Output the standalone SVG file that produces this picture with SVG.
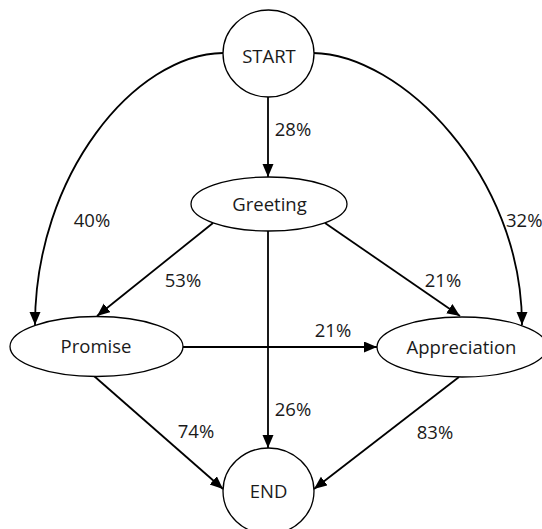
<svg xmlns="http://www.w3.org/2000/svg" width="542" height="529" viewBox="0 0 542 529">
<style>
.node{fill:#ffffff;stroke:#000000;stroke-width:1.3}
.edge{fill:none;stroke:#000000;stroke-width:1.8;marker-end:url(#arr)}
text{font-family:"Open Sans","Liberation Sans",sans-serif;font-size:18.5px;fill:#1a1a1a}
.c{text-anchor:middle}
</style>
<defs>
<marker id="arr" markerUnits="userSpaceOnUse" markerWidth="14" markerHeight="12" refX="13" refY="5.5" orient="auto">
<path d="M0,0 L13,5.5 L0,11 z" fill="#000000"/>
</marker>
</defs>
<rect width="542" height="529" fill="#ffffff"/>
<g id="connectors">
<line class="edge" x1="268" y1="97" x2="268" y2="177"/>
<path class="edge" d="M223,53 C135,54 35,175 35,325"/>
<path class="edge" d="M313,53 C401,54 522,175 522,325"/>
<line class="edge" x1="213" y1="223" x2="97" y2="316"/>
<line class="edge" x1="325" y1="223" x2="460" y2="316"/>
<line class="edge" x1="268" y1="231" x2="268" y2="448"/>
<line class="edge" x1="183" y1="347" x2="377" y2="347"/>
<line class="edge" x1="94" y1="376" x2="223" y2="489"/>
<line class="edge" x1="459" y1="377" x2="314" y2="489"/>
<text class="c" x="293" y="136">28%</text>
<text class="c" x="92" y="227">40%</text>
<text x="506" y="227">32%</text>
<text class="c" x="183" y="287">53%</text>
<text class="c" x="443" y="287">21%</text>
<text class="c" x="333" y="337">21%</text>
<text class="c" x="293" y="416">26%</text>
<text class="c" x="196" y="438">74%</text>
<text class="c" x="435" y="439">83%</text>
</g>
<g id="start">
<ellipse class="node" cx="268.5" cy="53.5" rx="45.5" ry="43.5"/>
<text class="c" x="269" y="63">START</text>
</g>
<g id="greeting">
<ellipse class="node" cx="269" cy="204" rx="78" ry="27"/>
<text class="c" x="269.5" y="211">Greeting</text>
</g>
<g id="promise">
<ellipse class="node" cx="96.5" cy="346.5" rx="86.5" ry="30"/>
<text class="c" x="96" y="353">Promise</text>
</g>
<g id="appreciation">
<ellipse class="node" cx="462" cy="347" rx="85" ry="30"/>
<text class="c" x="461.5" y="354">Appreciation</text>
</g>
<g id="end">
<ellipse class="node" cx="268.5" cy="491" rx="45.5" ry="43"/>
<text class="c" x="268.5" y="498">END</text>
</g>
</svg>
